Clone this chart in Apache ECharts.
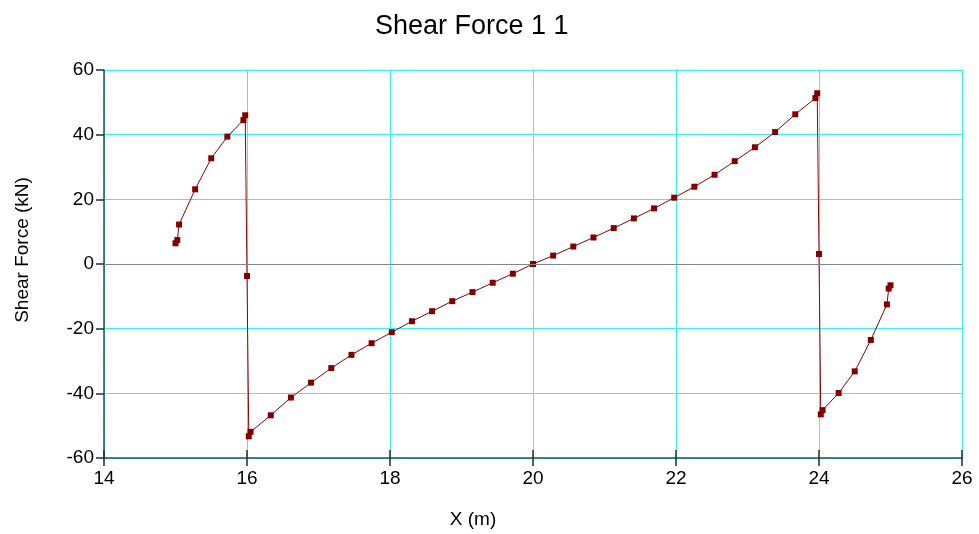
<!DOCTYPE html>
<html>
<head>
<meta charset="utf-8">
<script src="https://cdn.jsdelivr.net/npm/echarts@6/dist/echarts.min.js"></script>
<style>
  html, body { margin: 0; padding: 0; background: #fff; }
  #chart { width: 979px; height: 534px; }
</style>
</head>
<body>
<div id="chart"></div>
<script>
// Station positions along the beam (m)
const xPositions = [
  15.0, 15.025, 15.05, 15.275, 15.5, 15.725, 15.95, 15.975, 16.0,
  16.025, 16.05, 16.332, 16.614, 16.896, 17.179, 17.461, 17.743, 18.025,
  18.307, 18.589, 18.871, 19.154, 19.436, 19.718, 20.0,
  20.282, 20.564, 20.846, 21.129, 21.411, 21.693, 21.975, 22.257,
  22.539, 22.821, 23.104, 23.386, 23.668, 23.95, 23.975, 24.0,
  24.025, 24.05, 24.275, 24.5, 24.725, 24.95, 24.975, 25.0
];
// Shear force at each station (kN)
const shearValues = [
  6.4, 7.4, 12.2, 23.1, 32.7, 39.4, 44.5, 46.0, -3.7,
  -53.3, -51.9, -46.8, -41.3, -36.7, -32.2, -28.1, -24.5, -21.1,
  -17.7, -14.6, -11.5, -8.7, -5.8, -3.0, 0.0,
  2.6, 5.4, 8.2, 11.1, 14.1, 17.2, 20.5, 23.9,
  27.6, 31.8, 36.1, 40.8, 46.3, 51.3, 52.8, 3.1,
  -46.5, -45.2, -39.9, -33.2, -23.5, -12.5, -7.6, -6.6
];
const xTicks = [14, 16, 18, 20, 22, 24, 26];
const yTicks = [-60, -40, -20, 0, 20, 40, 60];

const seriesData = xPositions.map((x, i) => [x, shearValues[i]]);

const axisDark = '#2f4f4f';
const tickDark = '#1f2f2f';
const gridCyan = '#30f4f4';
const font = '"Liberation Sans", Arial, sans-serif';
const TICK = 8;

const chart = echarts.init(document.getElementById('chart'));
chart.setOption({
  animation: false,
  title: {
    text: 'Shear Force 1 1',
    left: 370, top: 8,
    textStyle: { fontFamily: font, fontSize: 27, fontWeight: 'normal', color: '#000' }
  },
  grid: { left: 104, right: 17, top: 70, bottom: 76 },
  xAxis: {
    type: 'value', min: xTicks[0], max: xTicks[xTicks.length - 1], interval: 2,
    name: 'X (m)', nameLocation: 'middle', nameGap: 52,
    nameTextStyle: { fontFamily: font, fontSize: 19, color: '#000', padding: [0, 120, 0, 0] },
    axisLine: { show: true, onZero: false, lineStyle: { color: axisDark, width: 1.5 } },
    axisTick: { show: true, length: TICK, lineStyle: { color: tickDark, width: 1.5 } },
    axisLabel: { fontFamily: font, fontSize: 19, color: '#000', margin: 11 },
    splitLine: { show: true, lineStyle: { color: gridCyan, width: 1 } }
  },
  yAxis: {
    type: 'value', min: yTicks[0], max: yTicks[yTicks.length - 1], interval: 20,
    name: 'Shear Force (kN)', nameLocation: 'middle', nameGap: 72, nameRotate: 90,
    nameTextStyle: { fontFamily: font, fontSize: 19, color: '#000', padding: [0, 0, 0, 28] },
    axisLine: { show: true, onZero: false, lineStyle: { color: axisDark, width: 1.5 } },
    axisTick: { show: true, length: TICK, lineStyle: { color: tickDark, width: 1.5 } },
    axisLabel: { fontFamily: font, fontSize: 19, color: '#000', margin: 10 },
    splitLine: { show: true, lineStyle: { color: gridCyan, width: 1 } }
  },
  series: [{
    type: 'line',
    data: seriesData,
    symbol: 'rect',
    symbolSize: 6,
    showAllSymbol: true,
    itemStyle: { color: '#800000' },
    lineStyle: { color: '#8b0000', width: 1 },
    markLine: {
      silent: true, symbol: 'none', label: { show: false },
      lineStyle: { color: '#7a8a8a', width: 1, type: 'solid' },
      data: [{ yAxis: 0 }]
    },
    z: 3
  }]
});

// The x ticks also reach up into the plot from the bottom axis.
const yMin = yTicks[0];
const innerTicks = xTicks.map(v => {
  const p = chart.convertToPixel({ gridIndex: 0 }, [v, yMin]);
  return {
    type: 'line', silent: true, z: 100,
    shape: { x1: p[0], y1: p[1] - TICK, x2: p[0], y2: p[1] },
    style: { stroke: tickDark, lineWidth: 1.5 }
  };
});
chart.setOption({ graphic: innerTicks });
</script>
</body>
</html>
